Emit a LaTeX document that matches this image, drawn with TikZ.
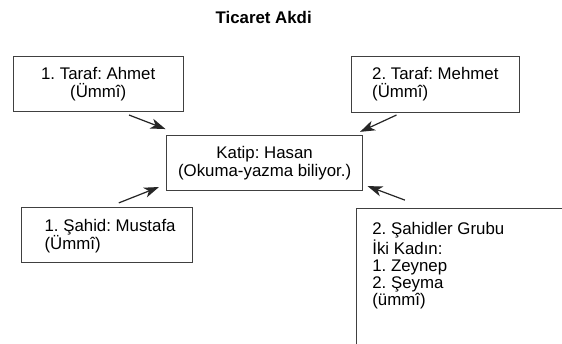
\documentclass[tikz,border=0pt]{standalone}
\usepackage{fontspec}
\setmainfont{Liberation Sans}
\frenchspacing
\usetikzlibrary{arrows.meta}

\begin{document}
\begin{tikzpicture}[x=1pt,y=-1pt,font=\fontsize{18}{19.3}\selectfont,
    kutu/.style={draw=black!75,line width=1pt,inner sep=0pt},
    cizgi/.style={draw=black!75,line width=1pt},
    yazi/.style={align=left,inner sep=0pt},
    ok/.style={-{Stealth[length=16pt,width=11pt,inset=4.5pt]},line width=1.3pt,black!85}]
    \useasboundingbox (0,0) rectangle (601,367);
    \node[font=\bfseries\fontsize{18}{19.3}\selectfont] (baslik) at (282,19) {Ticaret Akdi};
    \node[kutu,align=center,minimum width=182pt,minimum height=59pt] (taraf1) at (105,89.5) {1. Taraf: Ahmet\\(Ümmî)};
    \node[kutu,align=left,minimum width=179pt,minimum height=60pt] (taraf2) at (465.5,90) {2. Taraf: Mehmet\\(Ümmî)};
    \node[kutu,align=center,minimum width=210pt,minimum height=59pt] (katip) at (283,174.5) {Katip: Hasan\\(Okuma-yazma biliyor.)};
    \node[kutu,minimum width=183pt,minimum height=59pt] (sahit1) at (114.5,251.5) {};
    \node[yazi,anchor=west] (sahit1y) at ([xshift=25pt,yshift=-1.5pt]sahit1.west) {1. Şahid: Mustafa\\(Ümmî)};
    % sayfadan taşan kutu: yalnız sol ve üst kenar
    \node[inner sep=0pt,anchor=north west,minimum width=220pt,minimum height=144pt] (sahit2) at (381,223) {};
    \draw[cizgi] (sahit2.south west) -- (sahit2.north west) -- (sahit2.north east);
    \node[yazi,anchor=north west,font=\fontsize{18}{18.4}\selectfont] (sahit2y) at ([xshift=17pt,yshift=-15pt]sahit2.north west)
      {2. Şahidler Grubu\\İki Kadın:\\1. Zeynep\\2. Şeyma\\(ümmî)};
    % oklar
    \coordinate (o1) at (138,123);
    \coordinate (u1) at (177,138);
    \coordinate (o2) at (424,123);
    \coordinate (u2) at (385,141);
    \coordinate (o3) at (127,217);
    \coordinate (u3) at (170,200);
    \coordinate (o4) at (433,214);
    \coordinate (u4) at (393,199);
    \draw[ok] (o1) -- (u1);
    \draw[ok] (o2) -- (u2);
    \draw[ok] (o3) -- (u3);
    \draw[ok] (o4) -- (u4);
\end{tikzpicture}
\end{document}
